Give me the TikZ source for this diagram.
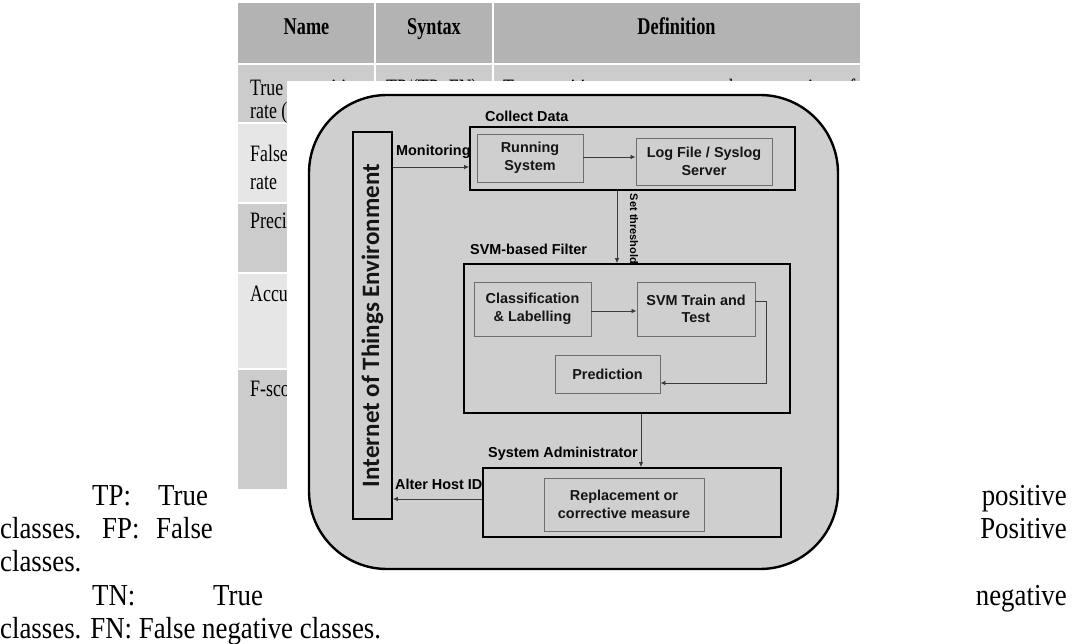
\documentclass[tikz,border=0pt]{standalone}
\usepackage{fontspec}
\setmainfont{Liberation Serif}
\newfontfamily\tabfont[FakeStretch=0.76]{Liberation Serif}
\newfontfamily\txtfont[FakeStretch=0.88]{Liberation Serif}
\newfontfamily\diafont{Liberation Sans}
\newfontfamily\iotfont{Carlito}
\usetikzlibrary{arrows.meta,calc}

\definecolor{tabhead}{HTML}{B3B3B3}
\definecolor{tabmid}{HTML}{CCCCCC}
\definecolor{tablight}{HTML}{E6E6E6}
\definecolor{panel}{HTML}{CFCFCF}
\definecolor{boxgray}{HTML}{6E6E6E}
\definecolor{arrowgray}{HTML}{3A3A3A}
\definecolor{textdark}{HTML}{151515}

\begin{document}
\begin{tikzpicture}[x=1pt,y=-1pt,
  tabhd/.style={font=\tabfont\bfseries\fontsize{24}{26}\selectfont, inner sep=0pt, anchor=base},
  tabtx/.style={font=\tabfont\fontsize{23.5}{26}\selectfont, inner sep=0pt, anchor=base west},
  bodytx/.style={font=\txtfont\fontsize{30.5}{33}\selectfont, inner sep=0pt},
  frame/.style={draw=black, line width=2.4pt, fill=panel, rounded corners=78pt, inner sep=0pt},
  groupbox/.style={draw=black, line width=1.8pt, fill=panel, inner sep=0pt},
  iotbox/.style={draw=black, line width=1.6pt, fill=panel, inner sep=0pt},
  itembox/.style={draw=boxgray, line width=0.9pt, fill=panel, inner sep=0pt, align=center,
    text=textdark, font=\diafont\bfseries\fontsize{14.4}{17.5}\selectfont},
  lbl/.style={font=\diafont\bfseries\fontsize{14.4}{17}\selectfont, inner sep=0pt, anchor=west},
  smalllbl/.style={font=\diafont\bfseries\fontsize{11}{12}\selectfont, inner sep=0pt},
  iottext/.style={font=\iotfont\bfseries\fontsize{25}{28}\selectfont, inner sep=0pt, text=textdark},
  arr/.style={draw=arrowgray, line width=0.8pt, -{Latex[length=5pt,width=4.5pt]}}
]
\useasboundingbox (0,0) rectangle (1072,644);

% ---------- metrics table ----------
\foreach \ya/\yb/\c in {3/63/tabhead, 65/122/tabmid, 124/202/tablight,
                        204/272/tabmid, 274/368/tablight, 370/489/tabmid}
  \foreach \xa/\xb in {238/374, 376/492, 494/860}
    \fill[\c] (\xa,\ya) rectangle (\xb,\yb);

\node[tabhd] (hname) at (306.5,35) {Name};
\node[tabhd] (hsyn)  at (434,35)   {Syntax};
\node[tabhd] (hdef)  at (676.5,35) {Definition};

\node[tabtx] (tpr1) at (250,96)  {\makebox[113pt][s]{True positive}};
\node[tabtx] (tpr2) at (250,119) {rate (TPR)};
\node[tabtx] (tprs) at (386,96)  {TP/(TP+FN)};
\node[tabtx] (tprd) at (503,96)  {\makebox[352pt][s]{True positive rate measures the proportion of}};
\node[tabtx] (fpr1) at (250,162) {\makebox[113pt][s]{False positive}};
\node[tabtx] (fpr2) at (250,190) {rate};
\node[tabtx] (prec) at (250,229) {Precision};
\node[tabtx] (accu) at (250,302) {Accuracy};
\node[tabtx] (fsco) at (250,397) {F-score};

% ---------- body text around the figure ----------
\node[bodytx, anchor=base west] (w1a) at (92,505)  {TP:};
\node[bodytx, anchor=base west] (w1b) at (158,505) {True};
\node[bodytx, anchor=base east] (w1c) at (1067,505) {positive};
\node[bodytx, anchor=base west] (w2a) at (0,538)   {classes.};
\node[bodytx, anchor=base west] (w2b) at (102,538) {FP:};
\node[bodytx, anchor=base west] (w2c) at (156,538) {False};
\node[bodytx, anchor=base east] (w2d) at (1067,538) {Positive};
\node[bodytx, anchor=base west] (w3a) at (0,571)   {classes.};
\node[bodytx, anchor=base west] (w4a) at (92,605)  {TN:};
\node[bodytx, anchor=base west] (w4b) at (213,605) {True};
\node[bodytx, anchor=base east] (w4c) at (1067,605) {negative};
\node[bodytx, anchor=base west] (w5a) at (0,638)   {classes. FN: False negative classes.};

% ---------- figure canvas ----------
\fill[white] (287,81) rectangle (862,582);

\node[frame, minimum width=529pt, minimum height=474pt] (panel) at (573.5,332) {};

\node[iotbox, minimum width=39pt, minimum height=387pt] (iot) at (372.5,325.5) {};
\node[iottext, rotate=90] (iotlabel) at (iot.center) {Internet of Things Environment};

% collect data
\node[groupbox, minimum width=325pt, minimum height=63pt] (collect) at (632.5,158.5) {};
\node[itembox, minimum width=106pt, minimum height=48pt] (run) at (530,158) {Running\\System};
\node[itembox, minimum width=136pt, minimum height=47pt] (log) at (704,161.5) {Log File / Syslog\\Server};
\node[lbl] (collectlbl) at (485,116) {Collect Data};

% SVM-based filter
\node[groupbox, minimum width=326pt, minimum height=149pt] (svm) at (627,338.5) {};
\node[itembox, minimum width=117pt, minimum height=54pt] (cls) at (532.5,309) {Classification\\\& Labelling};
\node[itembox, minimum width=118pt, minimum height=54pt] (train) at (696,309) {SVM Train and\\Test};
\node[itembox, minimum width=105pt, minimum height=38pt] (pred) at (607.5,374) {Prediction};
\node[lbl] (svmlbl) at (470,249) {SVM-based Filter};

% system administrator
\node[groupbox, minimum width=298pt, minimum height=69pt] (admin) at (632,502.5) {};
\node[itembox, minimum width=160pt, minimum height=53pt] (repl) at (624,504.5) {Replacement or\\corrective measure};
\node[lbl] (adminlbl) at (488,454) {System Administrator};

% connectors
\coordinate (ymon) at (0,167);
\coordinate (yrl)  at (0,157);
\coordinate (xst)  at (617,0);
\coordinate (ycl)  at (0,311);
\coordinate (ytr)  at (0,301);
\coordinate (xtr)  at (766,0);
\coordinate (ypr)  at (0,383);
\coordinate (xad)  at (641,0);
\coordinate (yal)  at (0,499);

\draw[arr] (iot.east |- ymon) -- (collect.west |- ymon);
\node[lbl] (monlbl) at (396,152) {Monitoring};
\draw[arr] (run.east |- yrl) -- (log.west |- yrl);
\draw[arr] (collect.south -| xst) -- (svm.north -| xst);
\node[smalllbl, rotate=-90] (stlbl) at (634,229) {Set threshold};
\draw[arr] (cls.east |- ycl) -- (train.west |- ycl);
\draw[arr] (train.east |- ytr) -| (xtr |- ypr) -- (pred.east |- ypr);
\draw[arr] (svm.south -| xad) -- (admin.north -| xad);
\draw[arr] (admin.west |- yal) -- (iot.east |- yal);
\node[lbl] (altlbl) at (395,484) {Alter Host ID};
\end{tikzpicture}
\end{document}
